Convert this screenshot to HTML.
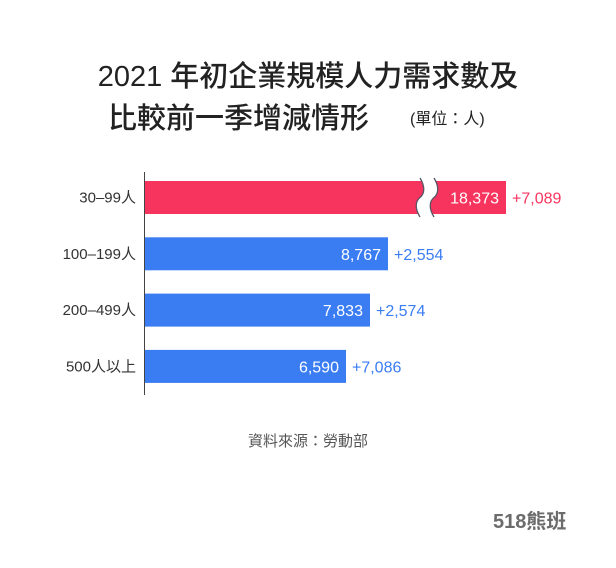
<!DOCTYPE html>
<html><head><meta charset="utf-8"><style>
body{margin:0;background:#fff;width:616px;height:563px;overflow:hidden;font-family:"Liberation Sans","Noto Sans CJK TC",sans-serif}
</style></head><body>
<svg width="616" height="563" font-family="Liberation Sans, Noto Sans CJK TC, sans-serif">
<text x="308" y="86" text-anchor="middle" font-size="29" font-weight="500" fill="#222">2021 年初企業規模人力需求數及</text>
<text x="108" y="128" font-size="29" font-weight="500" fill="#222">比較前一季增減情形</text>
<text x="410" y="124" font-size="16" fill="#222">(單位：人)</text>
<line x1="144.5" y1="172" x2="144.5" y2="395" stroke="#444" stroke-width="1"/>
<g id="bars"></g>
<text x="308" y="446" text-anchor="middle" font-size="15" fill="#555">資料來源：勞動部</text>
<text x="493" y="528" font-size="20" font-weight="bold" fill="#6b6b6b">518熊班</text>
</svg>
<script>
const categories=["30–99人","100–199人","200–499人","500人以上"];
const values=[18373,8767,7833,6590];
const deltas=["+7,089","+2,554","+2,574","+7,086"];
const breakCap=9800;
const x0=144, v0=-3876, k=0.0193;
function xs(v){return x0+(v-v0)*k;}
const g=document.getElementById('bars');
const NS='http://www.w3.org/2000/svg';
function mk(t,a){const e=document.createElementNS(NS,t);for(const n in a)e.setAttribute(n,a[n]);g.appendChild(e);return e;}
categories.forEach((c,i)=>{
  const y=181+i*56.3, h=33;
  const broken=values[i]>breakCap;
  const end=broken?506:xs(values[i]);
  const col=broken?'#f7345e':'#3a7cf2';
  const r=mk('rect',{x:x0+1,y:y,width:end-x0-1,height:h,fill:col});
  
  
  if(broken){
    const t=y-3,b=y+h+3,m=(t+b)/2;
    const wave=(x)=>`M${x} ${t} C${x+5} ${t+8} ${x+5} ${m-4} ${x} ${m} S${x-5} ${b-8} ${x} ${b}`;
    const f=mk('path',{d:`M420 ${t} C425 ${t+8} 425 ${m-4} 420 ${m} S415 ${b-8} 420 ${b} L434 ${b} C429 ${b-8} 429 ${m+4} 434 ${m} S439 ${t+8} 434 ${t} Z`,fill:'#fff'});
    
    
    [420,434].forEach(x=>{
      const l=mk('path',{d:wave(x),fill:'none',stroke:'#556',"stroke-width":1.3});
      
      
    });
  }
  const lab=mk('text',{x:x0-8,y:y+h/2+5,"text-anchor":"end","font-size":15,fill:'#333'});
  lab.textContent=c;
  
  
  const vl=mk('text',{x:end-7,y:y+h/2+6,"text-anchor":"end","font-size":16,fill:'#fff'});
  vl.textContent=values[i].toLocaleString('en-US');
  
  
  const dl=mk('text',{x:end+6,y:y+h/2+6,"font-size":16,fill:col});
  dl.textContent=deltas[i];
  
  
});
</script>
</body></html>
